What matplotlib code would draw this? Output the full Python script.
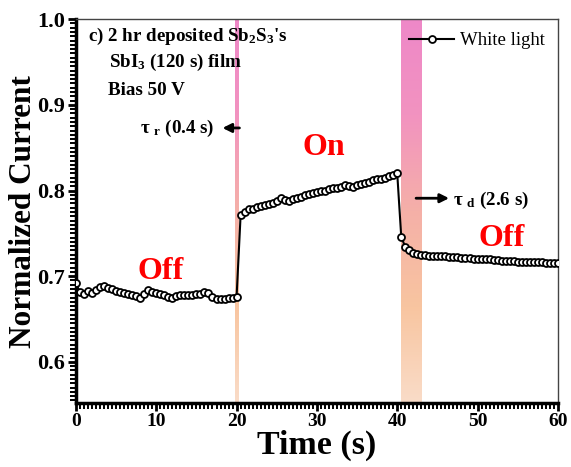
import matplotlib.pyplot as plt
import numpy as np
from matplotlib.colors import LinearSegmentedColormap
from matplotlib.ticker import MultipleLocator

plt.rcParams["font.family"] = "Liberation Serif"
plt.rcParams["mathtext.fontset"] = "custom"
plt.rcParams["mathtext.rm"] = "Liberation Serif:bold"
plt.rcParams["mathtext.it"] = "Liberation Serif:bold"
plt.rcParams["mathtext.bf"] = "Liberation Serif:bold"

# time grid (s), one sample every 0.5 s
time = np.arange(0, 60.01, 0.5)

off_dark = [0.692, 0.681, 0.679, 0.683, 0.680, 0.684, 0.687, 0.689, 0.686, 0.685,
            0.683, 0.681, 0.680, 0.679, 0.678, 0.677, 0.675, 0.679, 0.684, 0.682,
            0.680, 0.679, 0.678, 0.676, 0.674, 0.677, 0.678, 0.678, 0.678, 0.678,
            0.679, 0.679, 0.681, 0.680, 0.676, 0.673, 0.673, 0.673, 0.674, 0.674,
            0.676]
on_light = [0.771, 0.775, 0.778, 0.779, 0.781, 0.782, 0.783, 0.784, 0.786, 0.788,
            0.791, 0.789, 0.788, 0.790, 0.791, 0.793, 0.795, 0.796, 0.797, 0.798,
            0.799, 0.800, 0.802, 0.803, 0.803, 0.804, 0.806, 0.805, 0.804, 0.806,
            0.808, 0.809, 0.810, 0.812, 0.813, 0.814, 0.815, 0.817, 0.818, 0.820]
off_after = [0.746, 0.734, 0.730, 0.727, 0.726, 0.725, 0.725, 0.724, 0.724, 0.723,
             0.723, 0.723, 0.722, 0.722, 0.722, 0.721, 0.721, 0.721, 0.720, 0.720,
             0.720, 0.720, 0.720, 0.719, 0.719, 0.718, 0.718, 0.718, 0.718, 0.717,
             0.717, 0.717, 0.716, 0.716, 0.716, 0.716, 0.715, 0.715, 0.715, 0.715]
current = off_dark + on_light + off_after

# shaded switching windows (s)
rise_band = (19.8, 20.2)
fall_band = (40.5, 43.0)

fig = plt.figure(figsize=(5.71, 4.67), dpi=100)
ax = fig.add_axes([0.133, 0.137, 0.844, 0.822])

ymin, ymax = 0.552, 1.0
cmap = LinearSegmentedColormap.from_list(
    "band", ["#fadcc8", "#f8c5a0", "#f5b0a8", "#f293c0", "#ee88c8"])
grad = np.linspace(0, 1, 256).reshape(-1, 1)
for x0, x1 in (rise_band, fall_band):
    ax.imshow(grad, cmap=cmap, aspect="auto", origin="lower",
              extent=[x0, x1, ymin, ymax], zorder=0)

ax.plot(time, current, color="black", lw=1.5, marker="o", ms=5,
        mfc="white", mec="black", mew=1.3, label="White light", zorder=3)

ax.set_xlim(0, 60)
ax.set_ylim(ymin, ymax)
ax.xaxis.set_major_locator(MultipleLocator(10))
ax.xaxis.set_minor_locator(MultipleLocator(0.5))
ax.yaxis.set_major_locator(MultipleLocator(0.1))
ax.yaxis.set_minor_locator(MultipleLocator(0.005))
ax.yaxis.set_major_formatter(plt.FormatStrFormatter("%.1f"))
ax.tick_params(which="major", direction="out", length=6, width=2)
ax.tick_params(which="minor", direction="out", length=4, width=1.4)
ax.tick_params(which="both", top=False, right=False)
ax.tick_params(axis="x", labelsize=14, pad=1)
ax.tick_params(axis="y", labelsize=16, pad=2)
for lab in ax.get_xticklabels() + ax.get_yticklabels():
    lab.set_fontweight("bold")
ax.spines["left"].set_linewidth(2.5)
ax.spines["bottom"].set_linewidth(2.5)
ax.spines["top"].set_linewidth(1.0)
ax.spines["right"].set_linewidth(1.0)
ax.spines["top"].set_color("#444444")
ax.spines["right"].set_color("#444444")

ax.set_xlabel("Time (s)", fontsize=24.5, fontweight="bold", labelpad=0)
ax.set_ylabel("Normalized Current", fontsize=22.5, fontweight="bold", labelpad=-1)

bold = dict(fontweight="bold", fontsize=13.7, va="center")
ax.text(1.5, 0.980, r"c) 2 hr deposited Sb$_2$S$_3$'s", **bold)
ax.text(4.1, 0.949, r"SbI$_3$ (120 s) film", **bold)
ax.text(4.0, 0.917, "Bias 50 V", **bold)
ax.text(17.3, 0.873, r"$\tau$ $_r$ (0.4 s)", ha="right", **bold)
ax.annotate("", xy=(17.9, 0.873), xytext=(20.7, 0.873),
            arrowprops=dict(arrowstyle="-|>", color="black", lw=2, mutation_scale=13))
ax.annotate("", xy=(46.8, 0.791), xytext=(42.0, 0.791),
            arrowprops=dict(arrowstyle="-|>", color="black", lw=2, mutation_scale=13))
ax.text(47.0, 0.789, r"$\tau$ $_d$ (2.6 s)", ha="left", **bold)

red = dict(color="red", fontweight="bold", fontsize=23, ha="center", va="center")
ax.text(10.5, 0.705, "Off", **red)
ax.text(30.8, 0.850, "On", **red)
ax.text(53.0, 0.744, "Off", **red)

ax.legend(loc="upper right", frameon=False, fontsize=13.5, handlelength=2.4,
          borderaxespad=0.3, handletextpad=0.3)

fig.savefig("out.png", dpi=100)
